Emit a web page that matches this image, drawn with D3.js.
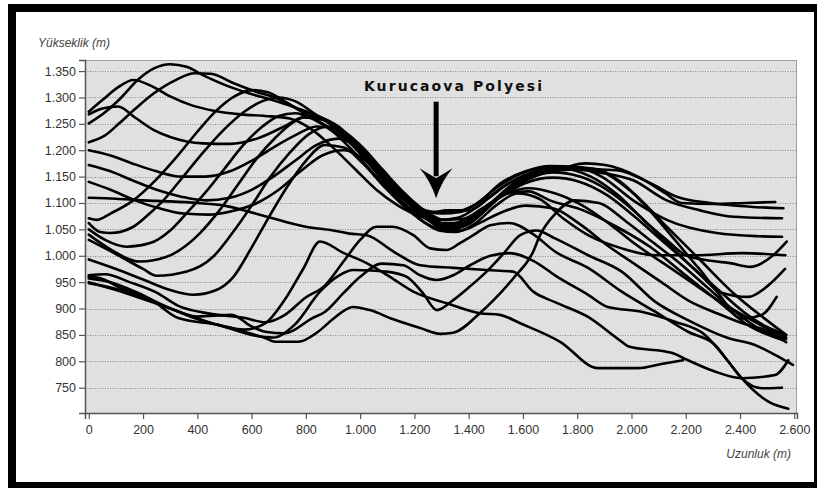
<!DOCTYPE html>
<html>
<head>
<meta charset="utf-8">
<script src="https://cdn.jsdelivr.net/npm/d3@7"></script>
<style>
  html, body { margin: 0; padding: 0; background: #fff; overflow: hidden; }
  svg { display: block; font-family: "Liberation Sans", Arial, sans-serif; }
</style>
</head>
<body>
<svg id="chart" width="817" height="488"></svg>
<script>
// ---- axis ticks ----
const xTicks = [0, 200, 400, 600, 800, 1000, 1200, 1400, 1600, 1800, 2000, 2200, 2400, 2600];
const yTicks = [750, 800, 850, 900, 950, 1000, 1050, 1100, 1150, 1200, 1250, 1300, 1350];
const yTitle = "Yükseklik (m)";
const xTitle = "Uzunluk (m)";
const noteText = "Kurucaova Polyesi";
// annotation anchor (data units): text centre, arrow top, arrow tip
const noteAt = { x: 1342, y: 1313 };
const arrowFrom = { x: 1280, y: 1292 };
const arrowTo = { x: 1280, y: 1109 };

// ---- profiles: [distance m, elevation m] ----
const profileA = [[0,1268],[50,1279],[108,1283],[170,1262],[240,1238],[300,1225],[420,1213],[520,1212],[620,1222],[720,1245],[790,1262],[860,1258],[940,1232],[1020,1185],[1100,1140],[1180,1100],[1260,1082],[1320,1086],[1400,1086],[1470,1108],[1550,1138],[1650,1160],[1750,1167],[1830,1175],[1903,1172],[2024,1150],[2123,1119],[2185,1100],[2300,1098],[2420,1100],[2530,1102]];
const profileB = [[0,1273],[50,1295],[110,1320],[164,1333],[230,1322],[300,1302],[380,1285],[460,1275],[560,1268],[650,1265],[740,1260],[820,1240],[900,1205],[980,1165],[1060,1125],[1140,1095],[1220,1075],[1290,1068],[1360,1072],[1430,1092],[1510,1125],[1600,1150],[1700,1162],[1800,1165],[1945,1162],[2068,1138],[2167,1112],[2290,1100],[2437,1093],[2560,1090]];
const profileC = [[0,1251],[60,1272],[120,1300],[180,1333],[240,1355],[300,1363],[360,1358],[430,1340],[510,1322],[590,1308],[670,1296],[750,1283],[830,1268],[900,1250],[970,1222],[1040,1180],[1120,1128],[1200,1095],[1280,1083],[1350,1084],[1420,1096],[1500,1128],[1590,1155],[1680,1166],[1770,1165],[1880,1158],[2006,1143],[2130,1105],[2253,1086],[2376,1074],[2555,1071]];
const profileD = [[0,1215],[60,1228],[110,1250],[170,1278],[240,1308],[320,1333],[390,1346],[450,1345],[530,1328],[610,1312],[700,1297],[779,1276],[852,1263],[937,1238],[1000,1200],[1060,1162],[1147,1112],[1220,1088],[1300,1080],[1370,1083],[1440,1102],[1520,1138],[1610,1160],[1700,1170],[1800,1168],[1890,1150],[2006,1105],[2130,1068],[2314,1043],[2470,1037],[2555,1036]];
const profileE = [[0,1071],[30,1068],[80,1080],[164,1105],[240,1140],[320,1185],[400,1235],[470,1275],[540,1303],[600,1314],[660,1310],[730,1290],[800,1268],[880,1245],[960,1215],[1040,1170],[1120,1125],[1200,1090],[1270,1066],[1330,1060],[1400,1072],[1480,1100],[1560,1135],[1650,1158],[1750,1165],[1850,1150],[1950,1115],[2050,1065],[2130,1030],[2200,1001],[2300,990],[2363,986],[2437,979],[2520,1000],[2572,1027]];
const profileF = [[0,1062],[42,1045],[79,1043],[164,1055],[226,1081],[275,1105],[340,1145],[420,1195],[500,1240],[570,1272],[640,1293],[700,1300],[760,1293],[830,1270],[900,1245],[980,1208],[1060,1158],[1140,1108],[1220,1070],[1290,1048],[1350,1045],[1420,1060],[1500,1095],[1580,1118],[1660,1108],[1750,1070],[1840,1039],[1964,1014],[2087,1001],[2234,1001],[2410,1005],[2567,1001]];
const profileG = [[0,1050],[60,1030],[140,1017],[226,1024],[300,1048],[361,1081],[430,1120],[500,1165],[570,1210],[640,1245],[700,1265],[760,1270],[830,1258],[900,1235],[980,1195],[1060,1150],[1140,1108],[1220,1077],[1290,1058],[1340,1052],[1400,1060],[1470,1090],[1550,1128],[1640,1152],[1740,1162],[1858,1165],[1960,1140],[2060,1090],[2160,1030],[2250,975],[2332,930],[2430,922],[2500,942],[2566,975]];
const profileH = [[0,1040],[80,1012],[189,989],[287,998],[360,1020],[410,1043],[480,1085],[550,1135],[620,1185],[690,1225],[750,1252],[810,1265],[870,1258],[940,1230],[1020,1185],[1100,1138],[1180,1098],[1250,1070],[1310,1055],[1370,1056],[1440,1078],[1520,1115],[1610,1145],[1710,1158],[1810,1150],[1910,1125],[2010,1085],[2110,1035],[2210,985],[2310,935],[2406,881],[2480,888],[2535,922]];
const profileI = [[0,1030],[108,1001],[200,975],[250,962],[361,970],[458,998],[529,1043],[600,1095],[670,1150],[740,1195],[810,1230],[880,1245],[950,1228],[1030,1188],[1110,1145],[1190,1105],[1260,1075],[1320,1058],[1390,1062],[1460,1090],[1540,1118],[1620,1122],[1699,1105],[1822,1086],[1945,1055],[2068,1017],[2190,967],[2314,916],[2437,866],[2559,840]];
const profileJ = [[0,993],[100,975],[200,955],[300,935],[385,926],[470,935],[533,960],[595,1011],[660,1070],[730,1130],[800,1180],[870,1210],[940,1205],[1010,1175],[1090,1130],[1170,1090],[1240,1062],[1300,1050],[1360,1052],[1430,1075],[1510,1110],[1600,1140],[1700,1160],[1790,1168],[1858,1165],[2006,1119],[2130,1055],[2253,992],[2376,929],[2498,878],[2570,850]];
const profileK = [[0,963],[60,965],[150,950],[250,930],[330,905],[450,890],[576,882],[650,874],[723,888],[797,920],[871,944],[940,990],[1000,1030],[1060,1055],[1120,1055],[1196,1039],[1258,1014],[1319,1011],[1368,1024],[1417,1039],[1480,1058],[1550,1062],[1640,1040],[1718,1008],[1840,977],[1964,932],[2087,894],[2208,856],[2308,831],[2356,800],[2406,768],[2503,724],[2578,710]];
const profileL = [[0,957],[80,950],[180,930],[280,905],[400,885],[527,888],[600,866],[650,856],[723,853],[821,881],[871,894],[940,930],[1000,960],[1080,985],[1159,982],[1221,963],[1282,954],[1343,963],[1405,982],[1480,1000],[1550,1005],[1640,990],[1718,963],[1840,926],[1913,903],[2037,894],[2160,875],[2271,850],[2356,800],[2406,768],[2480,749],[2554,750]];
const profileM = [[0,960],[40,958],[108,941],[232,916],[330,882],[477,869],[560,858],[650,844],[687,837],[772,837],[845,856],[900,880],[974,903],[1036,897],[1120,880],[1221,863],[1295,852],[1343,854],[1441,891],[1500,920],[1564,957],[1638,1008],[1663,1039],[1720,1080],[1790,1105],[1880,1100],[1980,1065],[2080,1025],[2180,985],[2280,940],[2380,895],[2470,862],[2570,842]];
const profileN = [[0,950],[100,935],[200,918],[300,900],[400,880],[500,866],[570,860],[650,872],[720,915],[790,975],[852,1027],[940,1005],[1024,986],[1110,960],[1196,932],[1319,910],[1441,891],[1515,888],[1590,872],[1737,837],[1877,787],[2024,787],[2110,795],[2190,802]];
const profileO = [[0,948],[80,940],[180,925],[300,900],[420,878],[520,862],[600,850],[680,845],[760,870],[852,932],[920,962],[975,973],[1040,972],[1099,970],[1172,960],[1230,930],[1283,897],[1343,916],[1405,942],[1466,970],[1530,1005],[1590,1039],[1650,1048],[1718,1033],[1840,1001],[1964,970],[2087,913],[2208,878],[2356,844],[2455,831],[2529,812],[2595,793]];
const profileP = [[0,1110],[100,1108],[200,1105],[300,1103],[400,1100],[500,1095],[580,1085],[650,1075],[720,1065],[800,1055],[900,1048],[960,1042],[1024,1039],[1123,1008],[1221,982],[1343,977],[1466,973],[1564,970],[1638,932],[1718,912],[1840,884],[1964,837],[1990,828],[2148,816],[2208,802],[2300,782],[2406,768],[2529,774],[2578,802]];
const profileQ = [[0,1200],[80,1190],[160,1175],[250,1160],[340,1150],[430,1150],[520,1160],[600,1180],[680,1205],[760,1228],[840,1245],[920,1240],[1000,1210],[1080,1165],[1160,1120],[1240,1085],[1310,1068],[1380,1070],[1450,1090],[1530,1115],[1620,1128],[1720,1118],[1820,1095],[1920,1060],[2020,1020],[2120,985],[2220,950],[2320,915],[2420,885],[2500,862],[2570,845]];
const profileR = [[0,1172],[80,1160],[160,1143],[250,1125],[340,1112],[430,1105],[520,1110],[600,1125],[680,1150],[760,1180],[840,1210],[920,1222],[1000,1200],[1080,1158],[1160,1115],[1240,1080],[1300,1062],[1370,1062],[1440,1082],[1520,1112],[1610,1138],[1710,1148],[1810,1140],[1910,1115],[2010,1075],[2110,1030],[2210,985],[2310,940],[2410,895],[2500,865],[2570,850]];
const profileS = [[0,1140],[80,1125],[170,1105],[260,1090],[350,1080],[440,1078],[530,1085],[620,1100],[700,1125],[780,1160],[860,1190],[940,1200],[1020,1180],[1100,1140],[1180,1100],[1250,1068],[1310,1050],[1370,1048],[1440,1062],[1520,1082],[1610,1095],[1710,1090],[1810,1060],[1910,1020],[2010,985],[2110,950],[2210,915],[2320,890],[2420,870],[2500,858],[2570,836]];

const profiles = [profileA, profileB, profileC, profileD, profileE, profileF, profileG, profileH, profileI, profileJ,
  profileK, profileL, profileM, profileN, profileO, profileP, profileQ, profileR, profileS];

// ---- layout ----
const W = 817, H = 488;
const plot = { left: 85, right: 797, top: 60, bottom: 413 };
const svg = d3.select("#chart");

const x = d3.scaleLinear().domain([-14, 2610]).range([plot.left, plot.right]);
const y = d3.scaleLinear().domain([702, 1371]).range([plot.bottom, plot.top]);
const fmt = d3.formatLocale({ decimal: ",", thousands: ".", grouping: [3], currency: ["", ""] }).format(",d");

// white page + black frame (right side sits at the picture's edge)
svg.append("rect").attr("x", 0).attr("y", 0).attr("width", W).attr("height", H).attr("fill", "#fff");
svg.append("rect").attr("x", 12).attr("y", 8).attr("width", 806).attr("height", 478)
  .attr("fill", "none").attr("stroke", "#000").attr("stroke-width", 8);

// plot background
svg.append("rect").attr("x", plot.left).attr("y", plot.top)
  .attr("width", plot.right - plot.left).attr("height", plot.bottom - plot.top)
  .attr("fill", "#e0e0e0");

// gridlines
svg.append("g").selectAll("line").data(yTicks).join("line")
  .attr("x1", plot.left).attr("x2", plot.right)
  .attr("y1", d => Math.round(y(d)) + 0.5).attr("y2", d => Math.round(y(d)) + 0.5)
  .attr("stroke", "#8a8a8a").attr("stroke-width", 1).attr("stroke-dasharray", "1,1.5");

// plot border: top / right light
svg.append("line").attr("x1", plot.left).attr("x2", plot.right).attr("y1", plot.top + 0.5).attr("y2", plot.top + 0.5)
  .attr("stroke", "#a0a0a0");
svg.append("line").attr("x1", plot.right - 0.5).attr("x2", plot.right - 0.5).attr("y1", plot.top).attr("y2", plot.bottom)
  .attr("stroke", "#a0a0a0");

// profiles
svg.append("clipPath").attr("id", "clip").append("rect")
  .attr("x", plot.left).attr("y", plot.top).attr("width", plot.right - plot.left).attr("height", plot.bottom - plot.top);
const line = d3.line().x(d => x(d[0])).y(d => y(d[1])).curve(d3.curveMonotoneX);
svg.append("g").attr("clip-path", "url(#clip)").selectAll("path").data(profiles).join("path")
  .attr("d", line).attr("fill", "none").attr("stroke", "#000")
  .attr("stroke-width", 2.6).attr("stroke-linejoin", "round").attr("stroke-linecap", "round");

// axes
const yAxis = svg.append("g").attr("transform", `translate(${plot.left},0)`)
  .call(d3.axisLeft(y).tickValues(yTicks).tickFormat(fmt).tickSize(6).tickPadding(3));
const xAxis = svg.append("g").attr("transform", `translate(0,${plot.bottom})`)
  .call(d3.axisBottom(x).tickValues(xTicks).tickFormat(fmt).tickSize(6).tickPadding(6));
[yAxis, xAxis].forEach(g => {
  g.select(".domain").attr("stroke", "#555").attr("stroke-width", 1.5);
  g.selectAll(".tick line").attr("stroke", "#555").attr("stroke-width", 1.2);
  g.selectAll(".tick text").attr("fill", "#333").style("font-size", "12.5px")
    .style("font-family", "'Liberation Sans', Arial, sans-serif");
});

// axis titles
svg.append("text").attr("x", 38).attr("y", 47).text(yTitle)
  .attr("fill", "#444").style("font-size", "12px").style("font-style", "italic");
svg.append("text").attr("x", 791).attr("y", 458).attr("text-anchor", "end").text(xTitle)
  .attr("fill", "#444").style("font-size", "12px").style("font-style", "italic");

// annotation
svg.append("text").attr("x", x(noteAt.x)).attr("y", y(noteAt.y)).attr("text-anchor", "middle")
  .attr("textLength", 178).attr("lengthAdjust", "spacing")
  .style("font-family", "'DejaVu Sans', sans-serif")
  .style("font-size", "14px").style("font-weight", "bold").attr("fill", "#111").text(noteText);

const ax = x(arrowFrom.x), ay0 = y(arrowFrom.y), ay1 = y(arrowTo.y);
svg.append("line").attr("x1", ax).attr("x2", ax).attr("y1", ay0).attr("y2", ay1 - 22)
  .attr("stroke", "#000").attr("stroke-width", 5);
svg.append("path")
  .attr("d", `M${ax},${ay1} Q${ax - 6},${ay1 - 18} ${ax - 16.5},${ay1 - 30} L${ax},${ay1 - 20} L${ax + 16.5},${ay1 - 30} Q${ax + 6},${ay1 - 18} ${ax},${ay1} Z`)
  .attr("fill", "#000");
</script>
</body>
</html>
